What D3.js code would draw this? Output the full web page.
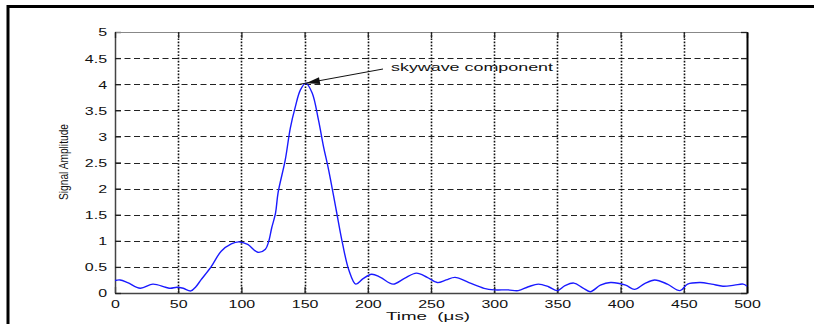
<!DOCTYPE html>
<html>
<head>
<meta charset="utf-8">
<script src="https://cdn.jsdelivr.net/npm/d3@7"></script>
<style>
  html, body { margin: 0; padding: 0; background: #fff; }
  svg { display: block; }
  text { font-family: "Liberation Sans", Arial, sans-serif; fill: #111; white-space: pre; }
</style>
</head>
<body>
<script>
// Received signal amplitude versus time
const timeUs = [0, 4, 10, 20, 30, 40, 44, 49, 54, 60, 64, 68, 76, 84, 92, 98, 105, 113, 119, 121.5, 124, 127,
  129, 134.7, 138.7, 142.7, 146.7, 151, 156, 161, 165, 169, 175, 180, 185, 190.5, 196, 203, 210, 220, 229,
  238.5, 247, 255, 262, 269, 280, 292, 300, 311, 319, 327, 335, 343, 350, 356, 363, 370, 376, 384, 392, 404,
  411, 419, 427, 437, 447, 453, 463, 472, 481, 490, 497, 500];
const amplitude = [0.24, 0.25, 0.2, 0.09, 0.17, 0.11, 0.09, 0.11, 0.09, 0.04, 0.12, 0.25, 0.5, 0.8, 0.94, 0.98,
  0.93, 0.78, 0.84, 0.98, 1.25, 1.53, 1.92, 2.55, 3.16, 3.57, 3.89, 4.02, 3.83, 3.31, 2.8, 2.36, 1.59, 0.95,
  0.44, 0.17, 0.27, 0.36, 0.3, 0.17, 0.28, 0.38, 0.3, 0.2, 0.25, 0.3, 0.2, 0.09, 0.06, 0.06, 0.045, 0.12,
  0.17, 0.12, 0.045, 0.14, 0.19, 0.1, 0.025, 0.15, 0.2, 0.15, 0.07, 0.18, 0.25, 0.17, 0.045, 0.17, 0.2,
  0.17, 0.13, 0.15, 0.17, 0.13];
const xTicks = [0, 50, 100, 150, 200, 250, 300, 350, 400, 450, 500];
const yTicks = [0, 0.5, 1, 1.5, 2, 2.5, 3, 3.5, 4, 4.5, 5];
const xTitle = "Time  (\u03bcs)";
const yTitle = "Signal Amplitude";
const noteText = "skywave component";
const noteIndex = 27; // sample at the skywave peak

const W = 814, H = 324;
const m = { left: 115, top: 32, right: 747, bottom: 293 };

const svg = d3.select("body").append("svg").attr("width", W).attr("height", H);

// figure frame (top and left edges)
svg.append("path")
  .attr("d", `M8,324 V6.5 H814`)
  .attr("fill", "none").attr("stroke", "#000").attr("stroke-width", 3);

const x = d3.scaleLinear().domain([0, 500]).range([m.left, m.right]);
const y = d3.scaleLinear().domain([0, 5]).range([m.bottom, m.top]);

// grid
const grid = svg.append("g");
grid.selectAll("line.hg").data(yTicks.slice(1, -1)).join("line")
  .attr("x1", m.left).attr("x2", m.right)
  .attr("y1", d => Math.round(y(d)) + 0.5).attr("y2", d => Math.round(y(d)) + 0.5)
  .attr("stroke", "#222").attr("stroke-width", 1).attr("stroke-dasharray", "6,3.5");
grid.selectAll("line.vg").data(xTicks.slice(1, -1)).join("line")
  .attr("x1", d => Math.round(x(d)) + 0.5).attr("x2", d => Math.round(x(d)) + 0.5)
  .attr("y1", m.top).attr("y2", m.bottom)
  .attr("stroke", "#111").attr("stroke-width", 1.6).attr("stroke-dasharray", "1.6,1.6");

// axes: ticks drawn inward on all four sides
const tickLen = 6;
const fmt = d3.format("");
const axB = svg.append("g").attr("transform", `translate(0,${m.bottom})`)
  .call(d3.axisBottom(x).tickValues(xTicks).tickFormat(fmt).tickSizeInner(-tickLen).tickSizeOuter(0).tickPadding(12));
const axL = svg.append("g").attr("transform", `translate(${m.left},0)`)
  .call(d3.axisLeft(y).tickValues(yTicks).tickFormat(fmt).tickSizeInner(-tickLen).tickSizeOuter(0).tickPadding(8));
const axT = svg.append("g").attr("transform", `translate(0,${m.top})`)
  .call(d3.axisTop(x).tickValues(xTicks).tickFormat("").tickSizeInner(-tickLen).tickSizeOuter(0));
const axR = svg.append("g").attr("transform", `translate(${m.right},0)`)
  .call(d3.axisRight(y).tickValues(yTicks).tickFormat("").tickSizeInner(-tickLen).tickSizeOuter(0));

[axB, axL].forEach(a => a.select(".domain").attr("stroke", "#444").attr("stroke-width", 1.5));
axT.select(".domain").attr("stroke", "#888").attr("stroke-width", 1);
axR.select(".domain").attr("stroke", "#000").attr("stroke-width", 2);
[axB, axL, axT, axR].forEach(a => a.selectAll(".tick line").attr("stroke", "#222").attr("stroke-width", 1.3));

// wide tick labels
[axB, axL].forEach(a => a.selectAll(".tick text")
  .style("font-family", "'Liberation Sans', Arial, sans-serif")
  .attr("font-size", 11).attr("fill", "#222")
  .each(function () {
    const t = d3.select(this);
    const len = this.getComputedTextLength();
    t.attr("textLength", len * 1.45).attr("lengthAdjust", "spacingAndGlyphs");
  }));
axB.selectAll(".tick text").attr("dy", "0.3em");
axL.selectAll(".tick text").attr("dy", "0.36em");

// signal trace
const line = d3.line().x((d, i) => x(timeUs[i])).y(d => y(d)).curve(d3.curveCatmullRom.alpha(0.5));
svg.append("path")
  .attr("d", line(amplitude))
  .attr("fill", "none").attr("stroke", "#1a1aff").attr("stroke-width", 1.4);

// annotation arrow pointing at the peak
const px = x(timeUs[noteIndex]), py = y(amplitude[noteIndex]);
const sx = 383, sy = 69;
const ang = Math.atan2(py - sy, px - sx);
svg.append("line")
  .attr("x1", sx).attr("y1", sy).attr("x2", px + 8 * Math.cos(ang)).attr("y2", py + 8 * Math.sin(ang))
  .attr("stroke", "#111").attr("stroke-width", 1);
const hl = 14, hw = 3.5;
const bx = px - hl * Math.cos(ang), by = py - hl * Math.sin(ang);
svg.append("path")
  .attr("d", `M${px},${py} L${bx + hw * Math.sin(ang)},${by - hw * Math.cos(ang)} L${bx - hw * Math.sin(ang)},${by + hw * Math.cos(ang)} Z`)
  .attr("fill", "#111");
svg.append("text")
  .attr("x", 391).attr("y", 71)
  .attr("font-size", 11).attr("fill", "#222")
  .attr("textLength", 162).attr("lengthAdjust", "spacingAndGlyphs")
  .text(noteText);

// axis titles
svg.append("text")
  .attr("x", 386).attr("y", 320)
  .attr("font-size", 11).attr("fill", "#222")
  .attr("textLength", 84).attr("lengthAdjust", "spacingAndGlyphs")
  .text(xTitle);
svg.append("text")
  .attr("transform", "translate(68,200) rotate(-90)")
  .attr("font-size", 12.5).attr("fill", "#222")
  .attr("textLength", 76).attr("lengthAdjust", "spacingAndGlyphs")
  .text(yTitle);
</script>
</body>
</html>
